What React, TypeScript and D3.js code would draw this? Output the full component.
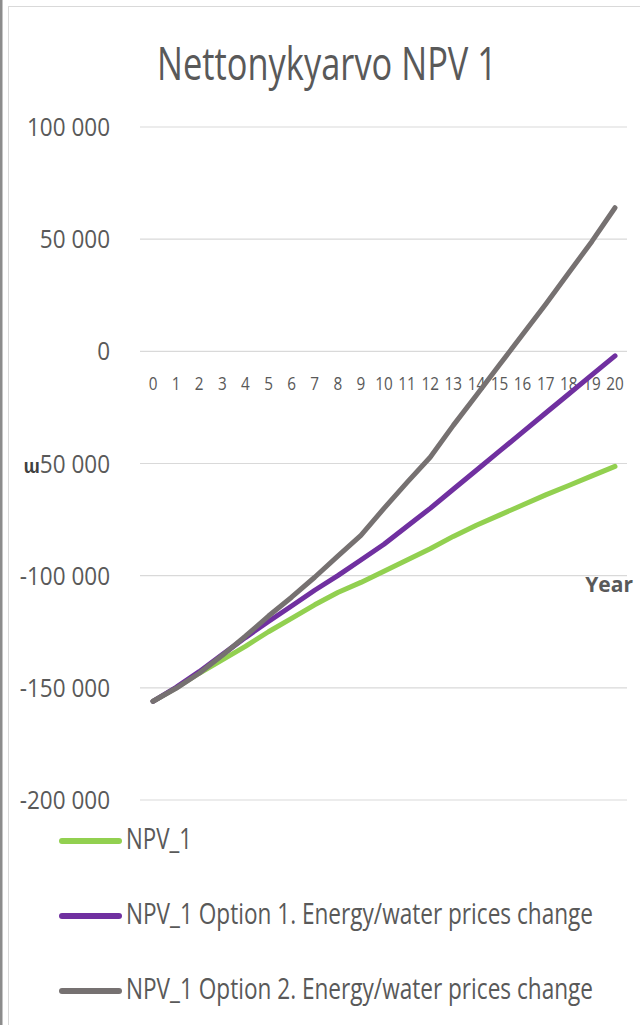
import React from "react";
import * as d3 from "d3";

const years = d3.range(0, 21);
const npv1 = [-156000, -150000, -143500, -137500, -131500, -125000, -119000, -113000, -107500, -103000, -98000, -93000, -88000, -82500, -77500, -73000, -68500, -64000, -59800, -55500, -51300];
const npv1Opt1 = [-156000, -149800, -142800, -135200, -127600, -120400, -113500, -106500, -100000, -93000, -86000, -78000, -70000, -61500, -53000, -44500, -36000, -27500, -19000, -10500, -2000];
const npv1Opt2 = [-156000, -150200, -143500, -135500, -127000, -118000, -109600, -100700, -91300, -82000, -70000, -58400, -47200, -33000, -19600, -6000, 7500, 21000, 35000, 49000, 64000];
const yTicks = [100000, 50000, 0, -50000, -100000, -150000, -200000];
const yTickLabels = ["100 000", "50 000", "0", "ɯ50 000", "-100 000", "-150 000", "-200 000"];
const seriesNames = ["NPV_1", "NPV_1 Option 1. Energy/water prices change", "NPV_1 Option 2. Energy/water prices change"];
const seriesColors = ["#92d050", "#7030a0", "#767171"];
const seriesData = [npv1, npv1Opt1, npv1Opt2];
const legendWidths = [66, 467, 467];

const W = 640;
const H = 1025;
const FONT = "'Open Sans', sans-serif";
const TXT = "#595959";

export default function App() {
  const x = d3.scaleLinear().domain([0, 20]).range([153, 615]);
  const y = d3.scaleLinear().domain([-200000, 100000]).range([800, 127]);
  const line = d3
    .line<number>()
    .x((_, i) => x(years[i]))
    .y((d) => y(d));
  const legendY = d3.scalePoint<number>().domain([0, 1, 2]).range([841, 991]);

  return (
    <svg
      width={W}
      height={H}
      style={{ position: "absolute", left: 0, top: 0, background: "#fff" }}
      fontFamily={FONT}
    >
      <rect x={0} y={0} width={W} height={H} fill="#fff" />
      <rect x={0} y={0} width={2.5} height={H} fill="#8c8c8c" />
      <line x1={8.5} x2={8.5} y1={6} y2={H} stroke="#d9d9d9" strokeWidth={1} />
      <line x1={8} x2={W} y1={6.5} y2={6.5} stroke="#d9d9d9" strokeWidth={1} />

      <text
        x={157}
        y={80}
        fontSize={45}
        fill={TXT}
        textLength={340}
        lengthAdjust="spacingAndGlyphs"
      >
        Nettonykyarvo NPV 1
      </text>

      {yTicks.map((t, i) => (
        <g key={t}>
          <line x1={140} x2={627} y1={y(t)} y2={y(t)} stroke="#d9d9d9" strokeWidth={1.2} />
          <g transform={`translate(110,${y(t) + 9}) scale(0.9,1)`}>
            <text x={0} y={0} textAnchor="end" fontSize={25} fill={TXT}>
              {yTickLabels[i].startsWith("ɯ") ? (
                <>
                  <tspan fontWeight="bold" fontSize={20} fill="#404040">ɯ</tspan>
                  {yTickLabels[i].slice(1)}
                </>
              ) : (
                yTickLabels[i]
              )}
            </text>
          </g>
        </g>
      ))}

      {years.map((yr) => (
        <g key={yr} transform={`translate(${x(yr)},390) scale(0.85,1)`}>
          <text x={0} y={0} textAnchor="middle" fontSize={18} fill={TXT}>
            {yr}
          </text>
        </g>
      ))}

      <text x={633} y={592} textAnchor="end" fontSize={21} fontWeight="bold" fill={TXT}>
        Year
      </text>

      {seriesData.map((s, i) => (
        <path
          key={i}
          d={line(s) || ""}
          fill="none"
          stroke={seriesColors[i]}
          strokeWidth={5}
          strokeLinecap="round"
          strokeLinejoin="round"
        />
      ))}

      {seriesNames.map((name, i) => (
        <g key={name}>
          <line
            x1={62}
            x2={119}
            y1={legendY(i)}
            y2={legendY(i)}
            stroke={seriesColors[i]}
            strokeWidth={6}
            strokeLinecap="round"
          />
          <text
            x={126}
            y={(legendY(i) as number) + 8}
            fontSize={29}
            fill={TXT}
            textLength={legendWidths[i]}
            lengthAdjust="spacingAndGlyphs"
          >
            {name}
          </text>
        </g>
      ))}
    </svg>
  );
}
